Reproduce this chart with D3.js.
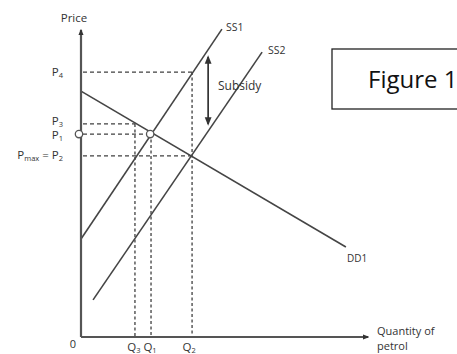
<!DOCTYPE html>
<html><head><meta charset="utf-8">
<script src="https://cdn.jsdelivr.net/npm/d3@7/dist/d3.min.js"></script>
<style>
html,body{margin:0;padding:0;background:#fff;}
svg{display:block;font-family:"Open Sans",Lato,sans-serif;}
</style></head>
<body>
<svg id="c" width="457" height="354"></svg>
<script>
// Quantity levels (x) and price levels (y), in chart units
const quantityLevels = [{name:"Q", sub:"3", q:1.88}, {name:"Q", sub:"1", q:2.44}, {name:"Q", sub:"2", q:3.87}];
const priceLevels = [
  {name:"P", sub:"4", p:8.63},
  {name:"P", sub:"3", p:6.94},
  {name:"P", sub:"1", p:6.61},
  {name:"P", sub:"2", p:5.90}
];
// curves: endpoints [q, p]
const demandDD1 = [[0, 8.01], [9.23, 2.93]];
const supplySS1 = [[0, 3.19], [4.91, 10.03]];
const supplySS2 = [[0.42, 1.21], [6.31, 9.28]];
// dashed guide lines: [price level, quantity level]
const guides = [[8.63, 3.87], [6.94, 1.88], [6.61, 2.44], [5.90, 3.87]];
const verticalGuides = [[8.63, 3.87], [6.94, 1.88], [6.61, 2.44]];
const equilibriumPoints = [[0, 6.61], [2.41, 6.61]];
const subsidyArrow = {q: 4.43, from: 9.12, to: 6.94};

const svg = d3.select("#c");
const x = d3.scaleLinear().domain([0, 10]).range([81, 368]);
const y = d3.scaleLinear().domain([0, 10]).range([337, 30]);
const ink = "#454545";

const defs = svg.append("defs");
defs.append("marker").attr("id","ah").attr("viewBox","0 0 10 10").attr("refX",8).attr("refY",5)
  .attr("markerWidth",5).attr("markerHeight",5).attr("orient","auto-start-reverse")
  .append("path").attr("d","M0,1 L10,5 L0,9 Z").attr("fill","#333");
defs.append("marker").attr("id","ax").attr("viewBox","0 0 10 10").attr("refX",8).attr("refY",5)
  .attr("markerWidth",3).attr("markerHeight",3).attr("orient","auto")
  .append("path").attr("d","M0,1 L10,5 L0,9 Z").attr("fill","#333");

// dashed guides
const g = svg.append("g").attr("stroke","#404040").attr("stroke-width",1.3).attr("fill","none");
guides.forEach(([p,q]) => {
  g.append("line").attr("x1", x(0)+2).attr("x2", x(q)).attr("y1", y(p)).attr("y2", y(p))
    .attr("stroke-dasharray","4,3");
});
verticalGuides.forEach(([p,q]) => {
  g.append("line").attr("x1", x(q)).attr("x2", x(q)).attr("y1", y(p)).attr("y2", y(0))
    .attr("stroke-dasharray","3,2.5");
});

// curves
const line = d3.line().x(d=>x(d[0])).y(d=>y(d[1]));
[demandDD1, supplySS1, supplySS2].forEach(c => {
  svg.append("path").attr("d", line(c)).attr("fill","none").attr("stroke",ink).attr("stroke-width",1.6);
});

// axes
svg.append("line").attr("x1",x(0)).attr("x2",x(0)).attr("y1",y(0)).attr("y2",y(10))
  .attr("stroke","#555").attr("stroke-width",2.2).attr("marker-end","url(#ax)");
svg.append("line").attr("x1",x(0)).attr("x2",x(10)).attr("y1",y(0)).attr("y2",y(0))
  .attr("stroke","#555").attr("stroke-width",2.2).attr("marker-end","url(#ax)");

// subsidy arrow
svg.append("line").attr("x1",x(subsidyArrow.q)).attr("x2",x(subsidyArrow.q))
  .attr("y1",y(subsidyArrow.from)).attr("y2",y(subsidyArrow.to))
  .attr("stroke","#333").attr("stroke-width",1.7)
  .attr("marker-start","url(#ah)").attr("marker-end","url(#ah)");

// circles
svg.selectAll("circle.eq").data(equilibriumPoints).join("circle")
  .attr("cx",d=>x(d[0])-(d[0]===0?2:0)).attr("cy",d=>y(d[1])).attr("r",3.7)
  .attr("fill","#fff").attr("stroke","#555").attr("stroke-width",1.3);

// text
const txt = (tx, ty, s, size, anchor) => svg.append("text").attr("x",tx).attr("y",ty)
  .attr("font-size",size).attr("fill","#333").attr("text-anchor",anchor||"start").text(s);

txt(74, 22, "Price", 11.5, "middle");
txt(73, 348, "0", 11, "middle");
txt(377, 335, "Quantity of", 11);
txt(377, 350, "petrol", 11);
txt(357, 262, "DD1", 10, "middle");
txt(226, 31, "SS1", 10.5);
txt(268, 54, "SS2", 10.5);
txt(218, 90, "Subsidy", 12);

// price labels
priceLevels.forEach(d => {
  const t = svg.append("text").attr("x", 63).attr("y", y(d.p) + 3.5).attr("font-size",11.5)
    .attr("fill","#333").attr("text-anchor","end");
  if (d.sub === "2") {
    t.append("tspan").text("P");
    t.append("tspan").attr("font-size",7.5).attr("dy",2).text("max");
    t.append("tspan").attr("dy",-2).text(" = P");
  } else {
    t.append("tspan").text(d.name);
  }
  t.append("tspan").attr("font-size",7.5).attr("dy",2).text(d.sub);
  if (d.sub === "3") t.attr("y", y(d.p) + 1.5);
  if (d.sub === "1") t.attr("y", y(d.p) + 5);
});

// quantity labels
quantityLevels.forEach(d => {
  const t = svg.append("text").attr("x", x(d.q) - 1 + (d.sub==="2"?-2:0)).attr("y", 351).attr("font-size",11.5)
    .attr("fill","#333").attr("text-anchor","middle");
  t.append("tspan").text(d.name);
  t.append("tspan").attr("font-size",7.5).attr("dy",2).text(d.sub);
});

// Figure 1 box
svg.append("rect").attr("x",332).attr("y",49).attr("width",140).attr("height",60)
  .attr("fill","#fff").attr("stroke","#222").attr("stroke-width",1.3);
svg.append("text").attr("x",368).attr("y",88).attr("font-size",24).attr("fill","#111")
  .text("Figure 1");
</script>
</body></html>
